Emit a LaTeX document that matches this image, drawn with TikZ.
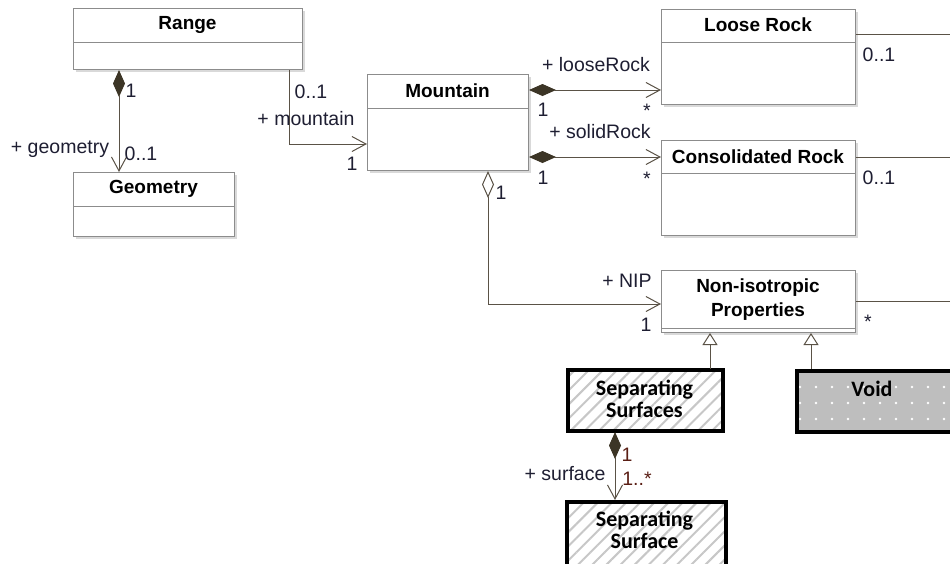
\documentclass[tikz,border=0pt]{standalone}
\usepackage{fontspec}
\setmainfont{Liberation Sans}
\newfontfamily\calib{Carlito}
\usetikzlibrary{arrows.meta,patterns,patterns.meta,calc,shadows}
\definecolor{linec}{HTML}{5A5246}
\definecolor{diac}{HTML}{3C3526}
\definecolor{txtc}{HTML}{1E1E32}
\definecolor{multc}{HTML}{5A1E14}
\definecolor{boxc}{HTML}{8C8C8C}
\definecolor{voidc}{HTML}{BEBEBE}
\begin{document}
\begin{tikzpicture}[x=1pt,y=-1pt,
  cls/.style={draw=boxc, fill=white, line width=1pt, inner sep=0pt, anchor=north west,
    drop shadow={shadow xshift=2pt,shadow yshift=-2pt,fill=black!15,opacity=1}},
  ttl/.style={font=\fontsize{19}{24}\selectfont\bfseries, text=black, inner sep=0pt, align=center},
  thick/.style={draw=black, line width=4pt, inner sep=0pt, anchor=north west},
  ttl2/.style={font=\fontsize{22}{21.5}\selectfont\calib\bfseries, text=black, inner sep=0pt, align=center},
  lbl/.style={text=txtc, font=\fontsize{19.5}{20}\selectfont, inner sep=0pt, text height=13.5pt, text depth=0pt},
  mlbl/.style={lbl, text=multc},
  conn/.style={draw=linec, line width=1pt},
  comp/.style={conn, {Diamond[length=27pt,width=12pt,fill=diac,color=diac]}-{Straight Barb[length=14pt,width=15pt]}},
  aggr/.style={conn, {Diamond[open,length=27pt,width=12pt,fill=white]}-{Straight Barb[length=14pt,width=15pt]}},
  gen/.style={conn, -{Triangle[open,length=12pt,width=15pt,fill=white]}}
]
\useasboundingbox (0,0) rectangle (950,563);
\begin{scope}
\clip (0,0) rectangle (950,563);
% classes
\node[cls, minimum width=229pt, minimum height=61pt] (range) at (73,8) {};
\draw[boxc, line width=1pt] (range.west |- 0,42) -- (range.east |- 0,42);
\node[ttl] (rangeT) at (187.5,25) {Range};

\node[cls, minimum width=161pt, minimum height=64pt] (geometry) at (73,172) {};
\draw[boxc, line width=1pt] (geometry.west |- 0,206) -- (geometry.east |- 0,206);
\node[ttl] (geometryT) at (153.5,189) {Geometry};

\node[cls, minimum width=161pt, minimum height=96pt] (mountain) at (367,74) {};
\draw[boxc, line width=1pt] (mountain.west |- 0,108) -- (mountain.east |- 0,108);
\node[ttl] (mountainT) at (447.5,91) {Mountain};

\node[cls, minimum width=194pt, minimum height=95pt] (loose) at (661,9) {};
\draw[boxc, line width=1pt] (loose.west |- 0,42) -- (loose.east |- 0,42);
\node[ttl] (looseT) at (758,25) {Loose Rock};

\node[cls, minimum width=194pt, minimum height=95pt] (consol) at (661,140) {};
\draw[boxc, line width=1pt] (consol.west |- 0,173) -- (consol.east |- 0,173);
\node[ttl] (consolT) at (758,157) {Consolidated Rock};

\node[cls, minimum width=194pt, minimum height=62pt] (nip) at (661,270) {};
\draw[boxc, line width=1pt] (nip.west |- 0,328.5) -- (nip.east |- 0,328.5);
\node[ttl] (nipT) at (758,300) {Non-isotropic\\Properties};

\node[thick, minimum width=155pt, minimum height=61pt,
  pattern={Lines[angle=45,distance=10pt,line width=2pt]}, pattern color=black!22] (ssurfs) at (567,369) {};
\node[ttl2] (ssurfsT) at (644.5,399) {Separating\\Surfaces};

\node[thick, minimum width=160pt, minimum height=61pt, preaction={fill=voidc},
  pattern={Dots[distance=16pt,radius=1.3pt]}, pattern color=white] (void) at (795,369) {};
\node[ttl2] (voidT) at (872,389) {Void};

\node[thick, minimum width=159pt, minimum height=64pt,
  pattern={Lines[angle=45,distance=10pt,line width=2pt]}, pattern color=black!22] (ssurf) at (565,500) {};
\node[ttl2] (ssurfT) at (644.5,530) {Separating\\Surface};

% free ends on the right
\coordinate (e1) at (952,34);
\coordinate (e2) at (952,157);
\coordinate (e3) at (952,301);

% connectors
\draw[comp] (range.south -| 119,0) -- (geometry.north -| 119,0);
\draw[conn, -{Straight Barb[length=14pt,width=15pt]}] (range.south -| 289,0) |- (mountain.west |- 0,144);
\draw[comp] (mountain.east |- 0,90) -- (loose.west |- 0,90);
\draw[comp] (mountain.east |- 0,157) -- (consol.west |- 0,157);
\draw[aggr] (mountain.south -| 488,0) |- (nip.west |- 0,304);
\draw[conn] (loose.east |- 0,34) -- (e1);
\draw[conn] (consol.east |- 0,157) -- (e2);
\draw[conn] (nip.east |- 0,301) -- (e3);
\draw[gen] (ssurfs.north -| 710,0) -- (nip.south -| 710,0);
\draw[gen] (void.north -| 811,0) -- (nip.south -| 811,0);
\draw[comp] (ssurfs.south -| 615,0) -- (ssurf.north -| 615,0);
\end{scope}

% labels
\node[lbl] (l1) at (60,147) {+ geometry};
\node[lbl] (l2) at (141,154) {0..1};
\node[lbl] (l3) at (131,91) {1};
\node[lbl] (l4) at (311,92) {0..1};
\node[lbl] (l5) at (306,119) {+ mountain};
\node[lbl] (l6) at (352,164) {1};
\node[lbl] (l7) at (596,65) {+ looseRock};
\node[lbl] (l8) at (543,110) {1};
\node[lbl] (l9) at (647,111) {*};
\node[lbl] (l10) at (600,132) {+ solidRock};
\node[lbl] (l11) at (543,178) {1};
\node[lbl] (l12) at (647,179) {*};
\node[lbl] (l13) at (501,193) {1};
\node[lbl] (l14) at (627,281) {+ NIP};
\node[lbl] (l15) at (646,325) {1};
\node[lbl] (l16) at (879,55) {0..1};
\node[lbl] (l17) at (879,178) {0..1};
\node[lbl] (l18) at (868,322) {*};
\node[mlbl] (l19) at (627,455) {1};
\node[lbl] (l20) at (565,474) {+ surface};
\node[mlbl] (l21) at (637,479) {1..*};
\end{tikzpicture}
\end{document}
